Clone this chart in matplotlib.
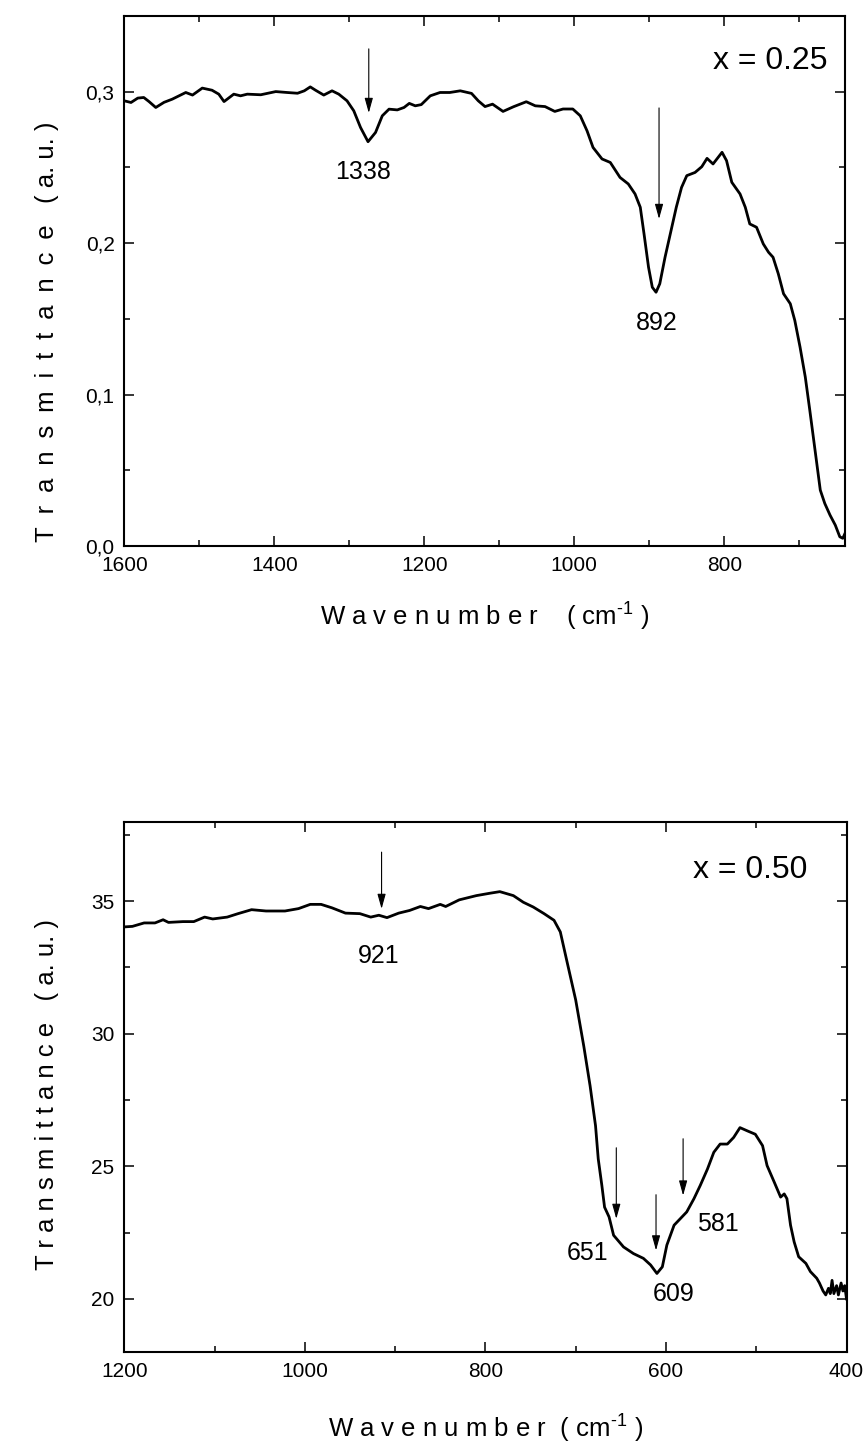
import numpy as np
import matplotlib
matplotlib.use("Agg")
import matplotlib.pyplot as plt
from matplotlib.ticker import MultipleLocator

plt.rcParams['font.family'] = ['Liberation Sans', 'DejaVu Sans']
plt.rcParams['mathtext.fontset'] = 'custom'
plt.rcParams['mathtext.rm'] = 'Liberation Sans'

# x = 0.25 spectrum (wavenumber, transmittance)
wn_a = [1600, 1591, 1582, 1574, 1567, 1558, 1547, 1536, 1527, 1518, 1509, 1496,
        1483, 1474, 1467, 1454, 1445, 1436, 1418, 1398, 1383, 1369, 1360, 1352,
        1345, 1334, 1323, 1314, 1303, 1294, 1285, 1275, 1265, 1256, 1247, 1236,
        1227, 1220, 1212, 1204, 1192, 1179, 1166, 1152, 1137, 1128, 1119, 1109,
        1095, 1081, 1064, 1052, 1039, 1026, 1015, 1002, 992, 983, 975, 963, 952,
        939, 928, 919, 912, 907, 901, 896, 891, 886, 879, 871, 864, 857, 850,
        839, 830, 823, 815, 803, 797, 790, 779, 772, 766, 757, 748, 741, 735,
        728, 721, 712, 706, 699, 692, 686, 679, 672, 666, 659, 652, 646, 642, 639]
tr_a = [0.294, 0.2929, 0.2958, 0.2962, 0.2935, 0.2896, 0.293, 0.2951, 0.2973,
        0.2995, 0.2978, 0.3024, 0.301, 0.2984, 0.2935, 0.2984, 0.2973, 0.2984,
        0.298, 0.3001, 0.2995, 0.299, 0.3006, 0.3032, 0.301, 0.2978, 0.3006,
        0.2984, 0.294, 0.2874, 0.2764, 0.267, 0.2731, 0.2841, 0.2885, 0.288,
        0.2896, 0.2923, 0.2907, 0.2915, 0.2973, 0.2995, 0.2995, 0.3006, 0.2989,
        0.294, 0.2902, 0.2918, 0.287, 0.2901, 0.2934, 0.2907, 0.2902, 0.287,
        0.2886, 0.2886, 0.2841, 0.2742, 0.2632, 0.2556, 0.2533, 0.2434, 0.2391,
        0.2325, 0.2237, 0.2061, 0.1841, 0.1709, 0.1676, 0.1732, 0.1907, 0.2083,
        0.2237, 0.2368, 0.2446, 0.2467, 0.2505, 0.256, 0.2523, 0.26, 0.2545,
        0.2402, 0.2325, 0.2237, 0.2127, 0.2105, 0.1995, 0.194, 0.1907, 0.1798,
        0.1666, 0.16, 0.149, 0.1314, 0.1116, 0.0897, 0.0633, 0.0369, 0.0281,
        0.0204, 0.0138, 0.0061, 0.0051, 0.0084]

# x = 0.50 spectrum
wn_b = [1200, 1191, 1178, 1166, 1157, 1151, 1135, 1123, 1111, 1102, 1086, 1074,
        1059, 1043, 1022, 1007, 994, 982, 970, 955, 939, 927, 918, 909, 896,
        884, 872, 863, 850, 844, 829, 810, 795, 784, 769, 758, 747, 735, 724,
        717, 710, 700, 691, 684, 678, 675, 671, 668, 663, 658, 647, 636, 625,
        617, 610, 604, 599, 591, 584, 577, 569, 562, 554, 547, 540, 532, 525,
        518, 510, 501, 493, 488, 480, 473, 469, 466, 462, 458, 453, 445, 440,
        433, 430, 426, 423, 420, 418, 416, 414, 411, 409, 406, 404, 402, 400]
tr_b = [34.03, 34.05, 34.18, 34.18, 34.3, 34.2, 34.23, 34.23, 34.4, 34.33, 34.4,
        34.53, 34.68, 34.63, 34.63, 34.72, 34.88, 34.88, 34.75, 34.55, 34.53,
        34.4, 34.47, 34.38, 34.55, 34.65, 34.8, 34.72, 34.88, 34.8, 35.05, 35.21,
        35.3, 35.36, 35.21, 34.96, 34.78, 34.53, 34.28, 33.84, 32.78, 31.28,
        29.53, 28.03, 26.53, 25.28, 24.28, 23.46, 23.09, 22.4, 21.96, 21.71,
        21.53, 21.28, 20.96, 21.21, 22.03, 22.78, 23.03, 23.28, 23.78, 24.28,
        24.9, 25.53, 25.84, 25.84, 26.09, 26.46, 26.34, 26.21, 25.78, 25.03,
        24.4, 23.84, 23.96, 23.78, 22.78, 22.15, 21.59, 21.34, 21.03, 20.78,
        20.6, 20.3, 20.15, 20.4, 20.2, 20.7, 20.2, 20.5, 20.15, 20.6, 20.3,
        20.5, 20.0]

# peak labels: (text, label x, label y, arrow x, arrow top, arrow tip)
peaks_a = [("1338", 1282, 0.247, 1274, 0.3283, 0.286),
           ("892", 890, 0.147, 887, 0.2893, 0.216)]
peaks_b = [("921", 918, 32.95, 915, 36.85, 34.71),
           ("651", 687, 21.75, 655, 25.70, 23.02),
           ("609", 592, 20.2, 611, 23.93, 21.83),
           ("581", 543, 22.84, 581, 26.04, 23.90)]

# upper label is spaced a little wider (en spaces)
ylabel_a = "\u2002".join("Transmittance") + "   ( a. u. )"
ylabel_b = "T r a n s m i t t a n c e   ( a. u. )"
xlabel_a = r"W a v e n u m b e r    ( cm$^{\text{-}1}$ )"
xlabel_b = r"W a v e n u m b e r  ( cm$^{\text{-}1}$ )"

fig = plt.figure(figsize=(8.66, 14.43), dpi=100)
ax1 = fig.add_axes([0.1435, 0.6216, 0.8323, 0.3673])
ax2 = fig.add_axes([0.1435, 0.0631, 0.834, 0.3675])


def style(ax, xmaj, xmin, ymaj, ymin):
    for s in ax.spines.values():
        s.set_linewidth(1.5)
    ax.xaxis.set_major_locator(MultipleLocator(xmaj))
    ax.xaxis.set_minor_locator(MultipleLocator(xmin))
    ax.yaxis.set_major_locator(MultipleLocator(ymaj))
    ax.yaxis.set_minor_locator(MultipleLocator(ymin))
    ax.tick_params(which='both', direction='in', top=True, right=True,
                   width=1.1, labelsize=15, pad=7)
    ax.tick_params(which='major', length=7.5)
    ax.tick_params(which='minor', length=4)


def add_peaks(ax, peaks):
    for txt, lx, ly, axx, y0, y1 in peaks:
        ax.annotate("", xy=(axx, y1), xytext=(axx, y0),
                    arrowprops=dict(arrowstyle="-|>,head_length=0.9,head_width=0.25",
                                    color='black', lw=0.8, shrinkA=0, shrinkB=0,
                                    mutation_scale=10))
        ax.text(lx, ly, txt, fontsize=18, ha='center', va='center')


# top panel
ax1.plot(wn_a, tr_a, color='black', lw=2)
ax1.set_xlim(1600, 639)
ax1.set_ylim(0, 0.35)
style(ax1, 200, 100, 0.1, 0.05)
ax1.yaxis.set_major_formatter(lambda v, p: f"{v:.1f}".replace('.', ','))
add_peaks(ax1, peaks_a)
ax1.text(0.896, 0.915, "x = 0.25", transform=ax1.transAxes, fontsize=23,
         ha='center', va='center')
ax1.set_xlabel(xlabel_a, fontsize=18.5)
ax1.xaxis.set_label_coords(0.5, -0.1)
ax1.set_ylabel(ylabel_a, fontsize=18.5)
ax1.yaxis.set_label_coords(-0.09, 0.404)

# bottom panel
ax2.plot(wn_b, tr_b, color='black', lw=2)
ax2.set_xlim(1200, 400)
ax2.set_ylim(18, 38)
style(ax2, 200, 100, 5, 2.5)
add_peaks(ax2, peaks_b)
ax2.text(0.866, 0.909, "x = 0.50", transform=ax2.transAxes, fontsize=23,
         ha='center', va='center')
ax2.set_xlabel(xlabel_b, fontsize=18.5)
ax2.xaxis.set_label_coords(0.5, -0.111)
ax2.set_ylabel(ylabel_b, fontsize=18.5)
ax2.yaxis.set_label_coords(-0.09, 0.485)

fig.savefig("out.png", dpi=100)
